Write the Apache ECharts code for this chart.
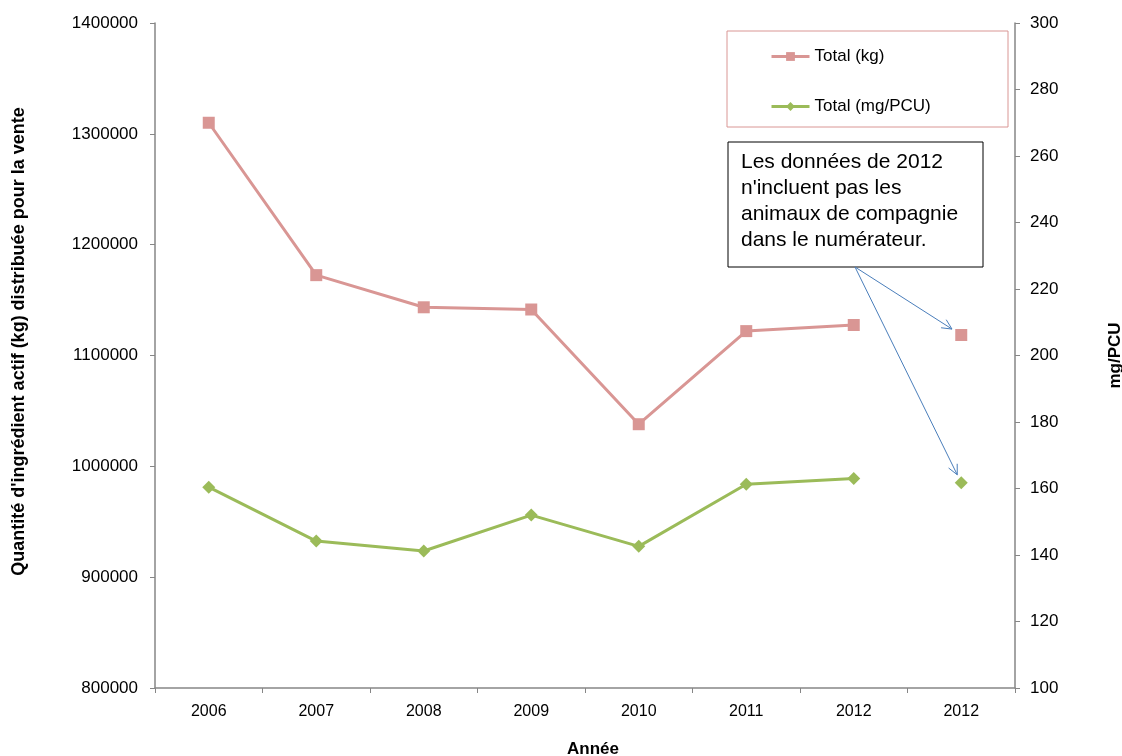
<!DOCTYPE html>
<html>
<head>
<meta charset="utf-8">
<script src="https://cdn.jsdelivr.net/npm/echarts@6/dist/echarts.min.js"></script>
<style>
  html, body { margin: 0; padding: 0; background: #fff; }
  #chart { width: 1122px; height: 756px; }
</style>
</head>
<body>
<div id="chart"></div>
<script>
const years = ['2006', '2007', '2008', '2009', '2010', '2011', '2012', '2012'];
// Total (kg), 2006-2012
const totalKg = [1310000, 1172500, 1143500, 1141500, 1038000, 1122000, 1127500, null];
// 2012 sans animaux de compagnie
const totalKgNoPets = [null, null, null, null, null, null, null, 1118500];
// Total (mg/PCU)
const totalMgPcu = [160.4, 144.2, 141.2, 152.0, 142.6, 161.3, 163.0, null];
const totalMgPcuNoPets = [null, null, null, null, null, null, null, 161.7];

const noteLines = [
  'Les données de 2012',
  "n'incluent pas les",
  'animaux de compagnie',
  'dans le numérateur.'
];

const pink = '#d99694';
const green = '#9bbb59';
const axisGrey = '#868686';
const font = 'Liberation Sans, Arial, sans-serif';

const chart = echarts.init(document.getElementById('chart'));

const option = {
  animation: false,
  backgroundColor: '#fff',
  textStyle: { fontFamily: font },
  grid: { left: 155, right: 107, top: 23, bottom: 68, outerBoundsMode: 'none', containLabel: false },
  legend: {
    data: ['Total (kg)', 'Total (mg/PCU)'],
    orient: 'vertical',
    left: 770,
    top: 48,
    padding: 0,
    itemWidth: 38,
    itemHeight: 11,
    itemGap: 33,
    lineStyle: { width: 3 },
    textStyle: { fontSize: 17, color: '#000', fontFamily: font }
  },
  xAxis: {
    type: 'category',
    data: years,
    boundaryGap: true,
    name: 'Année',
    nameLocation: 'middle',
    nameGap: 53,
    nameTextStyle: { fontSize: 17, fontWeight: 'bold', color: '#000', padding: [0, 0, 0, 16] },
    axisLine: { lineStyle: { color: axisGrey, width: 1.5 } },
    axisTick: { show: true, length: 5, alignWithLabel: false, lineStyle: { color: axisGrey } },
    axisLabel: { fontSize: 16, color: '#000', margin: 16 },
    splitLine: { show: false }
  },
  yAxis: [
    {
      type: 'value',
      min: 800000,
      max: 1400000,
      interval: 100000,
      position: 'left',
      name: "Quantité d'ingrédient actif (kg) distribuée pour la vente",
      nameLocation: 'middle',
      nameGap: 127,
      nameRotate: 90,
      nameTextStyle: { fontSize: 18, fontWeight: 'bold', color: '#000', padding: [0, 0, 0, 28] },
      axisLine: { show: true, lineStyle: { color: axisGrey, width: 1.5 } },
      axisTick: { show: true, length: 5, lineStyle: { color: axisGrey } },
      axisLabel: { fontSize: 17, color: '#000', margin: 17, formatter: (v) => String(v) },
      splitLine: { show: false }
    },
    {
      type: 'value',
      min: 100,
      max: 300,
      interval: 20,
      position: 'right',
      name: 'mg/PCU',
      nameLocation: 'middle',
      nameGap: 92,
      nameRotate: 90,
      nameTextStyle: { fontSize: 17, fontWeight: 'bold', color: '#000' },
      axisLine: { show: true, lineStyle: { color: axisGrey, width: 1.5 } },
      axisTick: { show: true, length: 5, lineStyle: { color: axisGrey } },
      axisLabel: { fontSize: 17, color: '#000', margin: 15 },
      splitLine: { show: false }
    }
  ],
  series: [
    {
      name: 'Total (kg)',
      type: 'line',
      yAxisIndex: 0,
      data: totalKg,
      symbol: 'rect',
      symbolSize: 12,
      itemStyle: { color: pink },
      lineStyle: { color: pink, width: 3 },
      z: 3
    },
    {
      name: 'Total (kg) 2012*',
      type: 'line',
      yAxisIndex: 0,
      data: totalKgNoPets,
      symbol: 'rect',
      symbolSize: 12,
      itemStyle: { color: pink },
      lineStyle: { width: 0 },
      z: 3
    },
    {
      name: 'Total (mg/PCU)',
      type: 'line',
      yAxisIndex: 1,
      data: totalMgPcu,
      symbol: 'diamond',
      symbolSize: 13,
      itemStyle: { color: green },
      lineStyle: { color: green, width: 3 },
      z: 3
    },
    {
      name: 'Total (mg/PCU) 2012*',
      type: 'line',
      yAxisIndex: 1,
      data: totalMgPcuNoPets,
      symbol: 'diamond',
      symbolSize: 13,
      itemStyle: { color: green },
      lineStyle: { width: 0 },
      z: 3
    }
  ]
};

chart.setOption(option);

// annotation box + arrows pointing to the two isolated 2012 points
const boxX = 728, boxY = 142, boxW = 255, boxH = 125;
const arrowStart = [855, boxY + boxH];
const pKg = chart.convertToPixel({ seriesIndex: 1 }, [7, totalKgNoPets[7]]);
const pMg = chart.convertToPixel({ seriesIndex: 3 }, [7, totalMgPcuNoPets[7]]);

function arrow(target, back) {
  const dx = target[0] - arrowStart[0];
  const dy = target[1] - arrowStart[1];
  const len = Math.sqrt(dx * dx + dy * dy);
  const ux = dx / len, uy = dy / len;
  const end = [target[0] - ux * back, target[1] - uy * back];
  const head = 11, spread = 0.45;
  const ang = Math.atan2(uy, ux);
  const h1 = [end[0] - head * Math.cos(ang - spread), end[1] - head * Math.sin(ang - spread)];
  const h2 = [end[0] - head * Math.cos(ang + spread), end[1] - head * Math.sin(ang + spread)];
  return [
    { type: 'line', shape: { x1: arrowStart[0], y1: arrowStart[1], x2: end[0], y2: end[1] },
      style: { stroke: '#4a7ebb', lineWidth: 1 }, z: 10 },
    { type: 'polyline', shape: { points: [h1, end, h2] },
      style: { stroke: '#4a7ebb', lineWidth: 1, fill: null }, z: 10 }
  ];
}

chart.setOption({
  graphic: [
    { type: 'rect', shape: { x: 727, y: 31, width: 281, height: 96 },
      style: { fill: null, stroke: pink, lineWidth: 1 }, z: 1 },
    { type: 'rect', shape: { x: boxX, y: boxY, width: boxW, height: boxH },
      style: { fill: '#fff', stroke: '#000', lineWidth: 1 }, z: 9 },
    { type: 'text', x: boxX + 13, y: boxY + 7,
      style: { text: noteLines.join('\n'), font: '21px ' + font, lineHeight: 26, fill: '#000' }, z: 11 }
  ].concat(arrow(pKg, 11)).concat(arrow(pMg, 9))
});
</script>
</body>
</html>
